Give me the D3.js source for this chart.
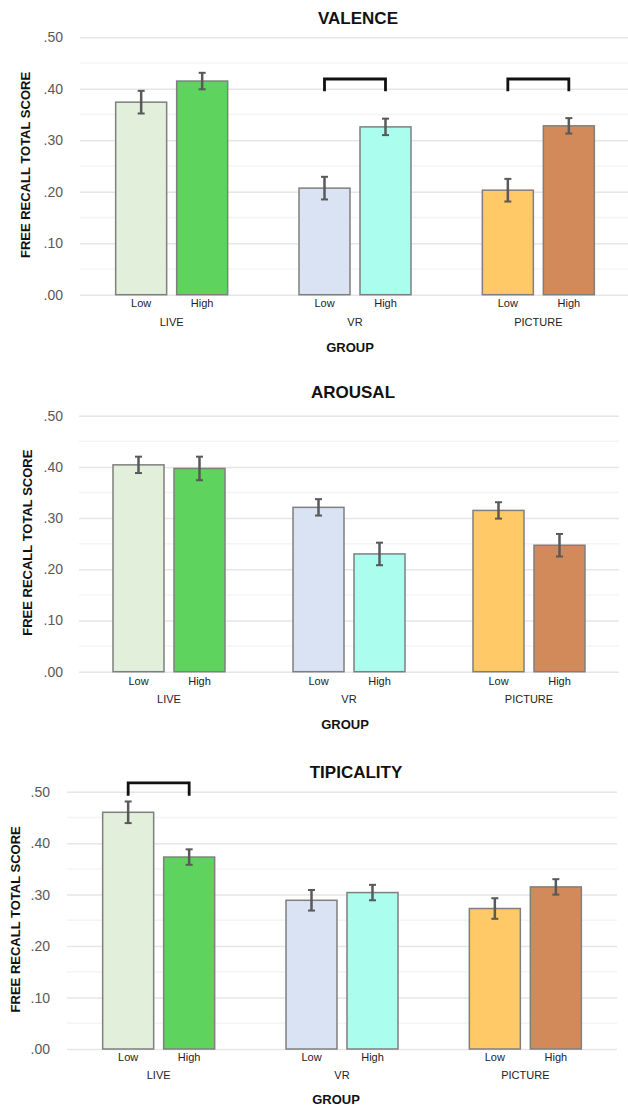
<!DOCTYPE html>
<html>
<head>
<meta charset="utf-8">
<script src="https://cdn.jsdelivr.net/npm/d3@7/dist/d3.min.js"></script>
<style>
  html, body { margin: 0; padding: 0; background: #fff; }
  svg { display: block; font-family: "Liberation Sans", Arial, sans-serif; }
</style>
</head>
<body>
<svg id="chart" width="628" height="1107"></svg>
<script>
// ---------------- DATA ----------------
const groups = ["LIVE", "VR", "PICTURE"];
const levels = ["Low", "High"];
const panelTitles = ["VALENCE", "AROUSAL", "TIPICALITY"];
const yTicks = [0, 0.1, 0.2, 0.3, 0.4, 0.5];
const yMinorTicks = [0.05, 0.15, 0.25, 0.35, 0.45];

// means in order LIVE Low, LIVE High, VR Low, VR High, PICTURE Low, PICTURE High
const valenceMeans    = [0.374, 0.415, 0.207, 0.326, 0.203, 0.328];
const valenceErrors   = [0.022, 0.016, 0.022, 0.016, 0.022, 0.015];
const arousalMeans    = [0.404, 0.397, 0.321, 0.230, 0.315, 0.247];
const arousalErrors   = [0.016, 0.023, 0.016, 0.022, 0.016, 0.022];
const tipicalityMeans = [0.460, 0.373, 0.289, 0.304, 0.273, 0.315];
const tipicalityErrors= [0.021, 0.015, 0.020, 0.015, 0.020, 0.015];

// significance brackets: groups, bracket top value, leg bottom value
const valenceSig    = ["VR", "PICTURE"];
const arousalSig    = [];
const tipicalitySig = ["LIVE"];
const bracketTop    = [0.419, 0, 0.517];
const bracketLeg    = [0.395, 0, 0.492];

const barColors = {
  "LIVE|Low": "#e2efda", "LIVE|High": "#5ed35e",
  "VR|Low": "#dae3f3", "VR|High": "#abfded",
  "PICTURE|Low": "#fec966", "PICTURE|High": "#d38a5b"
};

// ---------------- LAYOUT ----------------
const layouts = [
  { grid: [80, 628], band: [80, 630], y: [294.7, 37.3], title: [358, 18], lowY: 303, grpY: 322, axTitle: [350, 347], yLabX: 25, tickR: 63 },
  { grid: [79, 619], band: [79, 619], y: [671.7, 415.7], title: [353, 392.7], lowY: 680.7, grpY: 699, axTitle: [345, 724], yLabX: 27, tickR: 63 },
  { grid: [67, 617], band: [67, 617], y: [1049, 791.7], title: [356, 772.7], lowY: 1056.7, grpY: 1075, axTitle: [336, 1099.3], yLabX: 15, tickR: 50 }
];

const panelsData = [
  { means: valenceMeans, errs: valenceErrors, sig: valenceSig },
  { means: arousalMeans, errs: arousalErrors, sig: arousalSig },
  { means: tipicalityMeans, errs: tipicalityErrors, sig: tipicalitySig }
];

const svg = d3.select("#chart");
const fmt = v => d3.format(".2f")(v).replace(/^0/, "");

panelsData.forEach((pd, pi) => {
  const L = layouts[pi];
  const g = svg.append("g");
  const y = d3.scaleLinear().domain([0, 0.5]).range(L.y);
  const x0 = d3.scaleBand().domain(groups).range(L.band).paddingInner(0).paddingOuter(0);
  const x1 = d3.scaleBand().domain(levels).range([-56, 56]).paddingInner(10 / 61).paddingOuter(0);

  // minor gridlines
  g.selectAll(".minor").data(yMinorTicks).join("line")
    .attr("x1", L.grid[0]).attr("x2", L.grid[1])
    .attr("y1", d => y(d)).attr("y2", d => y(d))
    .attr("stroke", "#f4f4f4").attr("stroke-width", 1.5);

  // major gridlines + tick labels via axis
  const axis = d3.axisLeft(y).tickValues(yTicks).tickFormat(fmt)
    .tickSize(-(L.grid[1] - L.grid[0])).tickPadding(L.grid[0] - L.tickR);
  const ax = g.append("g").attr("transform", `translate(${L.grid[0]},0)`).call(axis);
  ax.select(".domain").remove();
  ax.selectAll(".tick line").attr("stroke", "#e6e6e6").attr("stroke-width", 1.5);
  ax.selectAll(".tick text").attr("fill", "#595959").attr("font-size", 14)
    .attr("font-family", "'Liberation Sans', Arial, sans-serif");

  // bars
  const rows = [];
  groups.forEach((gr, gi) => levels.forEach((lv, li) => {
    const k = gi * 2 + li;
    rows.push({ group: gr, level: lv, mean: pd.means[k], err: pd.errs[k] });
  }));
  const cx = d => x0(d.group) + x0.bandwidth() / 2 + x1(d.level);

  g.selectAll(".bar").data(rows).join("rect")
    .attr("x", d => cx(d))
    .attr("width", x1.bandwidth())
    .attr("y", d => y(d.mean))
    .attr("height", d => y(0) - y(d.mean))
    .attr("fill", d => barColors[d.group + "|" + d.level])
    .attr("stroke", "#7f7f7f").attr("stroke-width", 1.5);

  // error bars
  const mid = d => cx(d) + x1.bandwidth() / 2;
  const eb = g.selectAll(".err").data(rows).join("g").attr("stroke", "#595959").attr("stroke-width", 2.5);
  eb.append("line").attr("x1", mid).attr("x2", mid)
    .attr("y1", d => y(d.mean + d.err)).attr("y2", d => y(d.mean - d.err));
  eb.append("line").attr("x1", d => mid(d) - 3.5).attr("x2", d => mid(d) + 3.5)
    .attr("y1", d => y(d.mean + d.err)).attr("y2", d => y(d.mean + d.err)).attr("stroke-width", 2);
  eb.append("line").attr("x1", d => mid(d) - 3.5).attr("x2", d => mid(d) + 3.5)
    .attr("y1", d => y(d.mean - d.err)).attr("y2", d => y(d.mean - d.err)).attr("stroke-width", 2);

  // significance brackets
  pd.sig.forEach(gr => {
    const xa = x0(gr) + x0.bandwidth() / 2 + x1("Low") + x1.bandwidth() / 2;
    const xb = x0(gr) + x0.bandwidth() / 2 + x1("High") + x1.bandwidth() / 2;
    g.append("path")
      .attr("d", d3.line()([[xa, y(bracketLeg[pi])], [xa, y(bracketTop[pi])], [xb, y(bracketTop[pi])], [xb, y(bracketLeg[pi])]]))
      .attr("fill", "none").attr("stroke", "#111").attr("stroke-width", 2.8);
  });

  // level labels
  g.selectAll(".lvl").data(rows).join("text")
    .attr("x", mid).attr("y", L.lowY)
    .attr("text-anchor", "middle").attr("dominant-baseline", "central")
    .attr("font-size", 11).attr("fill", "#222")
    .text(d => d.level);

  // group labels
  g.selectAll(".grp").data(groups).join("text")
    .attr("x", d => x0(d) + x0.bandwidth() / 2).attr("y", L.grpY)
    .attr("text-anchor", "middle").attr("dominant-baseline", "central")
    .attr("font-size", 11).attr("fill", "#222")
    .text(d => d);

  // axis title
  g.append("text").attr("x", L.axTitle[0]).attr("y", L.axTitle[1])
    .attr("text-anchor", "middle").attr("dominant-baseline", "central")
    .attr("font-size", 13).attr("font-weight", "bold").attr("fill", "#111")
    .text("GROUP");

  // y label
  const yc = (L.y[0] + L.y[1]) / 2 - 1;
  g.append("text").attr("transform", `translate(${L.yLabX},${yc}) rotate(-90)`)
    .attr("text-anchor", "middle").attr("dominant-baseline", "central")
    .attr("font-size", 13).attr("font-weight", "bold").attr("fill", "#111")
    .text("FREE RECALL TOTAL SCORE");

  // title
  g.append("text").attr("x", L.title[0]).attr("y", L.title[1])
    .attr("text-anchor", "middle").attr("dominant-baseline", "central")
    .attr("font-size", 17).attr("font-weight", "bold").attr("fill", "#111")
    .text(panelTitles[pi]);
});
</script>
</body>
</html>
